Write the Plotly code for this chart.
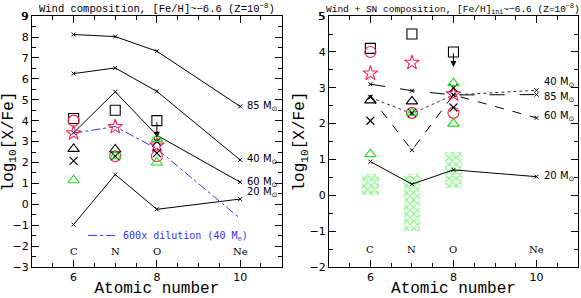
import plotly.graph_objects as go

Z = [6, 7, 8, 10]
ELEM = ["C", "N", "O", "Ne"]
MASS_NAMES = ["85", "40", "60", "20"]

# Left panel: wind composition
wind = {
    "85": [8.12, 8.02, 7.32, 4.68],
    "40": [6.25, 6.52, 5.40, 2.12],
    "60": [3.42, 5.38, 3.30, 1.06],
    "20": [-0.97, 1.42, -0.24, 0.25],
}
wind_label_y = {"85": 4.68, "40": 2.12, "60": 1.06, "20": 0.58}
dilution = [3.40, 3.72, 2.65, -0.68]

# Right panel: wind + SN composition
sn = {
    "85": [3.10, 2.92, 2.80, 2.81],
    "40": [2.73, 2.28, 2.80, 2.93],
    "60": [2.75, 1.26, 2.80, 2.16],
    "20": [0.94, 0.31, 0.71, 0.52],
}
sn_label_y = {"40": 3.15, "85": 2.74, "60": 2.19, "20": 0.52}
sn_dash = {"85": "longdash", "40": "dot", "60": "dash", "20": "solid"}
sn_color = {"85": "black", "40": "#333333", "60": "black", "20": "black"}

# Top y tick labels (not drawn by plotly at the range end here)
LEFT_TOP_TICK = 9
RIGHT_TOP_TICK = 5

# Observed stars (C, N, O)
obs_z = [6, 7, 8]
sq_black = [4.10, 4.50, 4.00]          # O is an upper limit
circ_red = [4.00, 2.30, 2.30]
star_red = [3.40, 3.70, 2.82]
tri_black = [2.65, 2.62, None]
x_black = [2.08, 2.30, 2.45]
x_black_b = [None, None, 3.00]
tri_green = [1.15, 2.30, 2.00]
tri_green_b = [None, None, 3.13]

# Observed ranges (green hatched boxes)
rng_z = [6, 7, 8]
rng_lo = [0.0, -1.0, 0.2]
rng_hi = [0.6, 0.6, 1.2]

fig = go.Figure()

def add_obs(xa, ya):
    specs = [
        (sq_black, "square-open", "black", 10),
        (circ_red, "circle-open", "#ff2050", 11),
        (star_red, "star-open", "#ff2050", 11),
        (tri_black, "triangle-up-open", "black", 10),
        (x_black, "x-thin-open", "black", 8),
        (x_black_b, "x-thin-open", "black", 8),
        (tri_green, "triangle-up-open", "#22dd22", 10),
        (tri_green_b, "triangle-up-open", "#22dd22", 10),
    ]
    for vals, sym, col, sz in specs:
        fig.add_trace(go.Scatter(
            x=obs_z, y=vals, mode="markers", xaxis=xa, yaxis=ya, showlegend=False,
            marker=dict(symbol=sym, size=sz, color=col, line=dict(color=col, width=1.1)),
        ))

# ---- left panel
for m in MASS_NAMES:
    fig.add_trace(go.Scatter(
        x=Z, y=wind[m], mode="lines+markers", xaxis="x", yaxis="y", showlegend=False,
        line=dict(color="black", width=1),
        marker=dict(symbol="x-thin-open", size=4, color="black", line=dict(color="black", width=1)),
    ))
fig.add_trace(go.Scatter(
    x=Z, y=dilution, mode="lines", xaxis="x", yaxis="y",
    name="600x dilution (40 M<sub>⊙</sub>)", showlegend=True,
    line=dict(color="#3333ee", width=1, dash="dashdot"),
))
add_obs("x", "y")

# ---- right panel
fig.add_trace(go.Bar(
    x=rng_z, base=rng_lo, y=[h - l for h, l in zip(rng_hi, rng_lo)],
    xaxis="x2", yaxis="y2", width=0.4, showlegend=False,
    marker=dict(color="white", line=dict(width=0),
                pattern=dict(shape="x", fgcolor="#11ee11", bgcolor="white", size=5, solidity=0.45)),
))
for m in MASS_NAMES:
    fig.add_trace(go.Scatter(
        x=Z, y=sn[m], mode="lines+markers", xaxis="x2", yaxis="y2", showlegend=False,
        line=dict(color=sn_color[m], width=1, dash=sn_dash[m]),
        marker=dict(symbol="x-thin-open", size=4, color="black", line=dict(color="black", width=1)),
    ))
add_obs("x2", "y2")

ann = []
lab_font = dict(family="DejaVu Sans", size=10, color="black")
for m in MASS_NAMES:
    ann.append(dict(x=Z[-1], y=wind_label_y[m], xref="x", yref="y", text=f"{m} M<sub>⊙</sub>",
                    showarrow=False, xanchor="left", xshift=5, font=lab_font))
    ann.append(dict(x=Z[-1], y=sn_label_y[m], xref="x2", yref="y2", text=f"{m} M<sub>⊙</sub>",
                    showarrow=False, xanchor="left", xshift=5, font=lab_font))
el_font = dict(family="DejaVu Serif", size=10, color="black")
for z, e in zip(Z, ELEM):
    ann.append(dict(x=z, y=-2.28, xref="x", yref="y", text=e, showarrow=False, font=el_font))
    ann.append(dict(x=z, y=-1.5, xref="x2", yref="y2", text=e, showarrow=False, font=el_font))

tick_font = dict(family="DejaVu Sans", size=11, color="black")
for xr, yr, v in [("x domain", "y", LEFT_TOP_TICK), ("x2 domain", "y2", RIGHT_TOP_TICK)]:
    ann.append(dict(x=0, y=v, xref=xr, yref=yr, text=str(v), showarrow=False,
                    xanchor="right", xshift=-2, font=tick_font))

ann.append(dict(x=0.055 + 0.43 / 2, y=1.0, xref="paper", yref="paper", xanchor="center",
                yanchor="top", yshift=0,
                text="Wind composition, [Fe/H]~−6.6 (Z=10<sup>−8</sup>)",
                showarrow=False, font=dict(family="Liberation Mono", size=10.5, color="black")))
ann.append(dict(x=0.566 + 0.429 / 2, y=1.0, xref="paper", yref="paper", xanchor="center",
                yanchor="top", yshift=0,
                text="Wind + SN composition, [Fe/H]<sub>ini</sub>~−6.6 (Z=10<sup>−8</sup>)",
                showarrow=False, font=dict(family="Liberation Mono", size=9.5, color="black")))

# upper-limit arrows from the O squares pointing down
for xr, yr, off in [("x", "y", 17), ("x2", "y2", 15)]:
    ann.append(dict(x=obs_z[2], y=sq_black[2], xref=xr, yref=yr, yshift=-off, text="",
                    showarrow=True, ax=0, ay=-off, arrowhead=2, arrowsize=1.2,
                    arrowwidth=1, arrowcolor="black", standoff=0))

title_font = dict(family="Liberation Mono", size=16, color="black")

def xax(domain, anchor):
    return dict(domain=domain, anchor=anchor, range=[5, 11], tickvals=[6, 8, 10],
                ticks="inside", ticklen=7, tickcolor="black", mirror="allticks",
                showline=True, linecolor="black", linewidth=1, showgrid=False, zeroline=False,
                automargin=False, ticklabeloverflow="allow",
                minor=dict(dtick=0.5, tick0=5, ticks="inside", ticklen=4, tickcolor="black"),
                tickfont=tick_font,
                title=dict(text="Atomic number", standoff=3, font=title_font))

def yax(domain, anchor, rng):
    return dict(domain=domain, anchor=anchor, range=rng, tickmode="linear", tick0=rng[0], dtick=1,
                ticks="inside", ticklen=7, tickcolor="black", mirror="allticks",
                showline=True, linecolor="black", linewidth=1, showgrid=False, zeroline=False,
                automargin=False, ticklabeloverflow="allow",
                minor=dict(dtick=0.5, ticks="inside", ticklen=4, tickcolor="black"),
                tickfont=tick_font,
                title=dict(text="log<sub>10</sub>[X/Fe]", standoff=0, font=title_font))

fig.update_layout(
    width=581, height=298, margin=dict(l=0, r=0, t=0, b=0, autoexpand=False),
    paper_bgcolor="white", plot_bgcolor="white",
    xaxis=xax([0.055, 0.485], "y"),
    yaxis=yax([0.104, 0.946], "x", [-3, 9.0]),
    xaxis2=xax([0.566, 0.995], "y2"),
    yaxis2=yax([0.104, 0.946], "x2", [-2, 5.0]),
    annotations=ann,
    legend=dict(x=0.143, y=0.21, xanchor="left", yanchor="middle", bgcolor="rgba(0,0,0,0)",
                font=dict(family="DejaVu Sans Mono", size=10, color="#3333ee"),
                itemwidth=30, tracegroupgap=0),
    bargap=0,
)

fig.write_html("out.html", config={"displayModeBar": False},
               post_script="document.body.style.margin='0';document.body.style.padding='0';")
